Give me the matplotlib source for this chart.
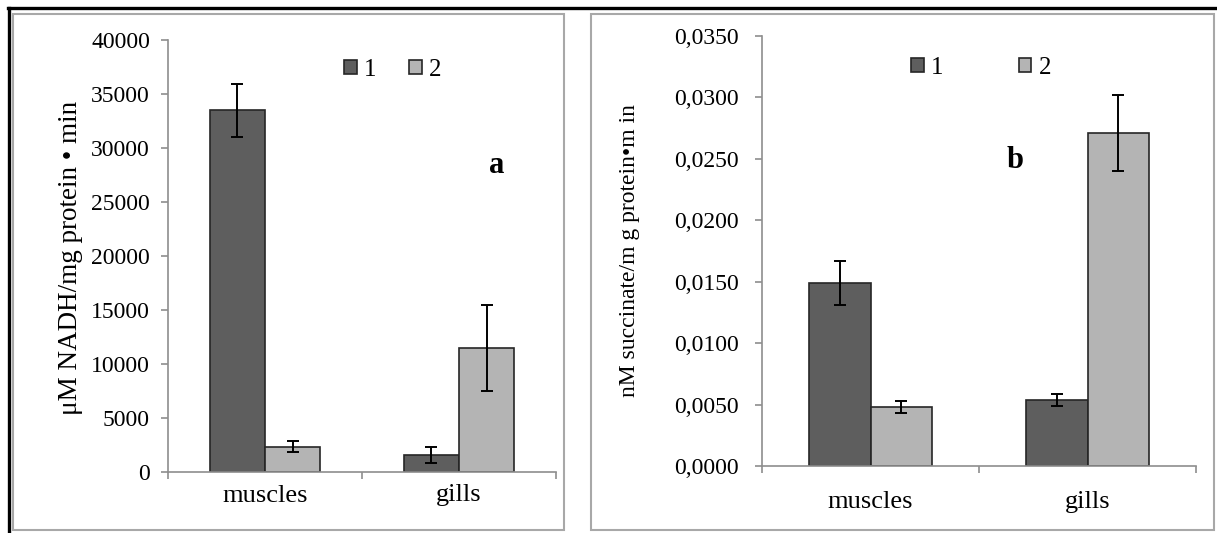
import matplotlib
matplotlib.use('Agg')

import matplotlib.pyplot as plt
import numpy as np
from matplotlib.patches import Rectangle
from matplotlib.lines import Line2D
from matplotlib.ticker import FuncFormatter

plt.rcParams['font.family'] = ['Liberation Serif', 'DejaVu Serif']

# DATA
categories = ['muscles', 'gills']
series_names = ['1', '2']

nadh_1 = [33500, 1600]
nadh_1_err = [2450, 750]
nadh_2 = [2350, 11500]
nadh_2_err = [500, 4000]

succ_1 = [0.0149, 0.0054]
succ_1_err = [0.0018, 0.0005]
succ_2 = [0.0048, 0.0271]
succ_2_err = [0.0005, 0.0031]

DARK = '#5e5e5e'
LIGHT = '#b4b4b4'
EDGE = '#262626'
AXGRAY = '#8e8e8e'

W, H = 1217, 533
fig = plt.figure(figsize=(W / 100, H / 100), dpi=100)


def fx(px):
    return px / W


def fy(py):
    return 1 - py / H


# panel frames
for x0, x1 in [(13, 564), (591, 1214)]:
    fig.patches.append(Rectangle((fx(x0), fy(530)), fx(x1 - x0), (530 - 14) / H,
                                 transform=fig.transFigure, fill=False,
                                 edgecolor='#a8a8a8', linewidth=1.5))
fig.lines.append(Line2D([fx(8), fx(1217)], [fy(8), fy(8)], transform=fig.transFigure,
                        color='black', linewidth=2.4))
fig.lines.append(Line2D([fx(9), fx(9)], [fy(8), fy(533)], transform=fig.transFigure,
                        color='black', linewidth=2.4))


def panel(rect, v1, e1, v2, e2, ymax, ystep, fmt, ypad, xpad):
    ax = fig.add_axes(rect)
    x = np.arange(len(categories))
    bw = 0.285
    ax.bar(x - bw / 2, v1, bw, color=DARK, edgecolor=EDGE, linewidth=1.2, zorder=2)
    ax.bar(x + bw / 2, v2, bw, color=LIGHT, edgecolor=EDGE, linewidth=1.2, zorder=2)
    ax.errorbar(x - bw / 2, v1, yerr=e1, fmt='none', ecolor='black', elinewidth=1.4,
                capsize=4, capthick=1.4, zorder=3)
    ax.errorbar(x + bw / 2, v2, yerr=e2, fmt='none', ecolor='black', elinewidth=1.4,
                capsize=4, capthick=1.4, zorder=3)
    ax.set_xlim(-0.5, len(categories) - 0.5)
    ax.set_ylim(0, ymax)
    ax.set_yticks(np.arange(0, ymax + ystep / 2, ystep))
    ax.yaxis.set_major_formatter(FuncFormatter(fmt))
    ax.set_xticks([-0.5, 0.5, 1.5])
    ax.set_xticklabels([])
    ax.set_xticks(x, minor=True)
    ax.set_xticklabels(categories, minor=True, fontsize=19)
    ax.tick_params(axis='x', which='minor', length=0, pad=xpad)
    ax.tick_params(axis='x', which='major', length=5, color=AXGRAY, width=1.2)
    ax.tick_params(axis='y', length=5, color=AXGRAY, width=1.2, labelsize=17, pad=ypad)
    for s in ['top', 'right']:
        ax.spines[s].set_visible(False)
    for s in ['left', 'bottom']:
        ax.spines[s].set_color(AXGRAY)
        ax.spines[s].set_linewidth(1.2)
    return ax


ax1 = panel([fx(168), fy(472), fx(556 - 168), (472 - 40) / H],
            nadh_1, nadh_1_err, nadh_2, nadh_2_err, 40000, 5000,
            lambda v, p: '%d' % v, 8, 9)
ax2 = panel([fx(762), fy(466), fx(1196 - 762), (466 - 36) / H],
            succ_1, succ_1_err, succ_2, succ_2_err, 0.035, 0.005,
            lambda v, p: ('%.4f' % v).replace('.', ','), 12, 18)

handles = [Rectangle((0, 0), 1, 1, facecolor=DARK, edgecolor=EDGE, linewidth=1.2),
           Rectangle((0, 0), 1, 1, facecolor=LIGHT, edgecolor=EDGE, linewidth=1.2)]
fig.legend(handles, series_names, loc='center left', bbox_to_anchor=(fx(344), fy(70)),
           ncol=2, frameon=False, fontsize=18, handlelength=0.5, handleheight=0.5,
           handletextpad=0.3, columnspacing=1.3, borderpad=0, borderaxespad=0)
fig.legend(handles, series_names, loc='center left', bbox_to_anchor=(fx(911), fy(68)),
           ncol=2, frameon=False, fontsize=18, handlelength=0.5, handleheight=0.5,
           handletextpad=0.3, columnspacing=3.0, borderpad=0, borderaxespad=0)

fig.text(fx(497), fy(165), 'a', fontsize=22, fontweight='bold', ha='center', va='center')
fig.text(fx(1015), fy(160), 'b', fontsize=22, fontweight='bold', ha='center', va='center')

fig.text(fx(71), fy(258), 'μM NADH/mg protein • min', rotation=90, fontsize=19.5,
         ha='center', va='center')
fig.text(fx(630), fy(251), 'nM succinate/m g protein•m in', rotation=90, fontsize=17,
         ha='center', va='center')

plt.savefig('out.png', dpi=100)
